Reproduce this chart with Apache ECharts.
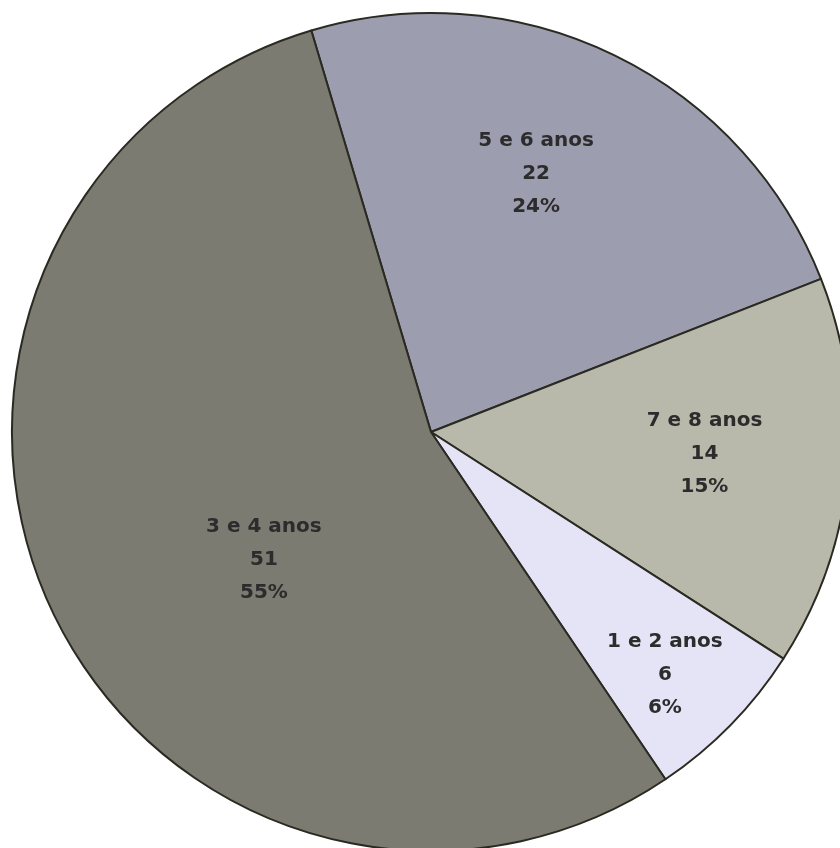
<!DOCTYPE html>
<html>
<head>
<meta charset="utf-8">
<script src="https://cdn.jsdelivr.net/npm/echarts@6/dist/echarts.min.js"></script>
<style>
html,body{margin:0;padding:0;background:#fff;}
#chart{width:840px;height:848px;}
</style>
</head>
<body>
<div id="chart"></div>
<script>
// Data (clockwise from the top)
const categories = ['5 e 6 anos', '7 e 8 anos', '1 e 2 anos', '3 e 4 anos'];
const values = [22, 14, 6, 51];

// Styles
const sliceColors = ['#9d9db0', '#b9b9ab', '#e4e4f6', '#7b7b72'];
const labelOffsets = [[12, -67], [62, 1], [82, 94], [25, 37]];

const chart = echarts.init(document.getElementById('chart'), null, {renderer: 'canvas'});
chart.setOption({
  backgroundColor: '#ffffff',
  animation: false,
  series: [{
    type: 'pie',
    center: [431, 432],
    radius: [0, 419],
    startAngle: 106.6,
    clockwise: true,
    percentPrecision: 0,
    avoidLabelOverlap: false,
    itemStyle: {borderColor: '#2a2a22', borderWidth: 2},
    label: {
      show: true,
      position: 'inside',
      formatter: '{b}\n{c}\n{d}%',
      fontFamily: 'DejaVu Sans',
      fontWeight: 'bold',
      fontSize: 20,
      lineHeight: 33,
      color: '#2c2c2c',
      align: 'center'
    },
    labelLine: {show: false},
    emphasis: {disabled: true},
    data: categories.map((c, i) => ({
      name: c,
      value: values[i],
      itemStyle: {color: sliceColors[i]},
      label: {offset: labelOffsets[i]}
    }))
  }]
});
</script>
</body>
</html>
